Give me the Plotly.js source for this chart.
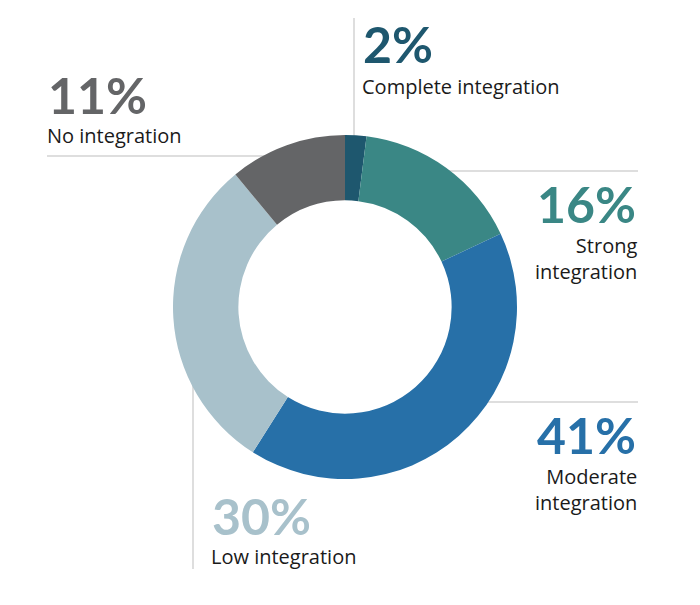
<!DOCTYPE html>
<html>
<head>
<meta charset="utf-8">
<script src="https://cdn.plot.ly/plotly-3.0.1.min.js"></script>
<style>html,body{margin:0;padding:0;background:#fff;}#chart{width:700px;height:605px;}</style>
</head>
<body>
<div id="chart"></div>
<script>
// Data
const categories = ["Complete integration", "Strong integration", "Moderate integration", "Low integration", "No integration"];
const values = [2, 16, 41, 30, 11];
const valueLabels = ["2%", "16%", "41%", "30%", "11%"];
const nameLabels = ["Complete integration", "Strong<br>integration", "Moderate<br>integration", "Low integration", "No integration"];
const colors = ["#1e576e", "#3a8785", "#2770a8", "#a8c1cb", "#646567"];

const W = 700, H = 605;
const px = x => x / W;
const py = y => 1 - y / H;

// Label placement (pixel positions in the page)
const pctPos = [
  {x: 361, y: 44, xa: "left"},
  {x: 638, y: 204, xa: "right"},
  {x: 638, y: 435, xa: "right"},
  {x: 210, y: 516, xa: "left"},
  {x: 46, y: 95, xa: "left"}
];
const namePos = [
  {x: 360, y: 86, xa: "left"},
  {x: 639, y: 259, xa: "right"},
  {x: 639, y: 489, xa: "right"},
  {x: 209, y: 556, xa: "left"},
  {x: 45, y: 135, xa: "left"}
];

const annotations = [];
for (let i = 0; i < categories.length; i++) {
  annotations.push({
    xref: "paper", yref: "paper", x: px(pctPos[i].x), y: py(pctPos[i].y),
    xanchor: pctPos[i].xa, yanchor: "middle", align: pctPos[i].xa,
    text: "<b>" + valueLabels[i] + "</b>", showarrow: false,
    font: {family: "Lato, sans-serif", size: 50, color: colors[i]}
  });
  annotations.push({
    xref: "paper", yref: "paper", x: px(namePos[i].x), y: py(namePos[i].y),
    xanchor: namePos[i].xa, yanchor: "middle", align: namePos[i].xa,
    text: nameLabels[i], showarrow: false,
    font: {family: "Open Sans, sans-serif", size: 20, color: "#1a1a1a"}
  });
}

const lineStyle = {color: "#bdbdbd", width: 1};
const shapes = [
  {type: "line", xref: "paper", yref: "paper", x0: px(354), x1: px(354), y0: py(18), y1: py(150), line: lineStyle, layer: "below"},
  {type: "line", xref: "paper", yref: "paper", x0: px(47), x1: px(280), y0: py(156), y1: py(156), line: lineStyle, layer: "below"},
  {type: "line", xref: "paper", yref: "paper", x0: px(430), x1: px(638), y0: py(171), y1: py(171), line: lineStyle, layer: "below"},
  {type: "line", xref: "paper", yref: "paper", x0: px(460), x1: px(638), y0: py(402), y1: py(402), line: lineStyle, layer: "below"},
  {type: "line", xref: "paper", yref: "paper", x0: px(193), x1: px(193), y0: py(370), y1: py(569), line: lineStyle, layer: "below"}
];

const cx = 345, cy = 307, r = 172;
const trace = {
  type: "pie",
  labels: categories,
  values: values,
  sort: false,
  direction: "clockwise",
  rotation: 0,
  hole: 0.62,
  textinfo: "none",
  hoverinfo: "label+percent",
  marker: {colors: colors, line: {width: 0}},
  domain: {x: [px(cx - r), px(cx + r)], y: [py(cy + r), py(cy - r)]},
  showlegend: false
};

const layout = {
  width: W, height: H,
  margin: {l: 0, r: 0, t: 0, b: 0},
  paper_bgcolor: "#ffffff",
  plot_bgcolor: "#ffffff",
  showlegend: false,
  annotations: annotations,
  shapes: shapes,
  font: {family: "Lato, sans-serif"}
};

Plotly.newPlot("chart", [trace], layout, {displayModeBar: false, staticPlot: true});
</script>
</body>
</html>
